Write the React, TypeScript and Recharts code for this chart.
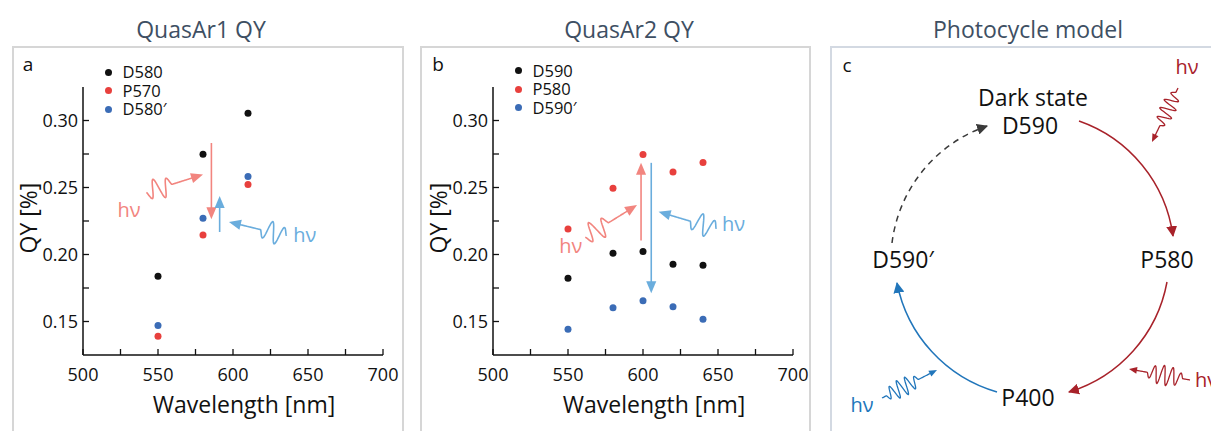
import React from 'react';
import { ScatterChart, Scatter, XAxis, YAxis, ReferenceLine, ReferenceDot, Legend } from 'recharts';

// QuasAr1 quantum yields (panel a)
const WL_A = [550, 580, 610];
const D580 = [0.1837, 0.2748, 0.3055];
const P570 = [0.1389, 0.2146, 0.2522];
const D580_PRIME = [0.147, 0.227, 0.2582];

// QuasAr2 quantum yields (panel b)
const WL_B = [550, 580, 600, 620, 640];
const D590 = [0.1823, 0.201, 0.2023, 0.1927, 0.192];
const P580 = [0.219, 0.2494, 0.2746, 0.2615, 0.2687];
const D590_PRIME = [0.1443, 0.1603, 0.1655, 0.1611, 0.1517];

const X_TICKS = [500, 525, 550, 575, 600, 625, 650, 675, 700];
const Y_TICKS = [0.15, 0.175, 0.2, 0.225, 0.25, 0.275, 0.3];

const BLACK = '#111111';
const RED = '#e8403d';
const BLUE = '#3b6cb6';
const SALMON = '#f2857f';
const SKY = '#6aaddd';
const DARK_RED = '#a8222a';
const CYCLE_BLUE = '#2176bb';
const FONT = '"Open Sans", sans-serif';

// annotation arrows, in data units
const ARROWS_A = [
  { x1: 585.6, y1: 0.2832, x2: 585.6, y2: 0.2263, color: SALMON, wave: false },
  { x1: 591.1, y1: 0.2168, x2: 591.1, y2: 0.2436, color: SKY, wave: false },
  { x1: 542.3, y1: 0.2463, x2: 580, y2: 0.2597, color: SALMON, wave: true },
  { x1: 635.6, y1: 0.2139, x2: 597.3, y2: 0.2243, color: SKY, wave: true },
];
const HV_A = [
  { x: 530.7, y: 0.233, color: SALMON },
  { x: 647.8, y: 0.2139, color: SKY },
];
const ARROWS_B = [
  { x1: 598.7, y1: 0.2104, x2: 598.7, y2: 0.2684, color: SALMON, wave: false },
  { x1: 605.5, y1: 0.2684, x2: 605.5, y2: 0.171, color: SKY, wave: false },
  { x1: 561.5, y1: 0.2129, x2: 596, y2: 0.2369, color: SALMON, wave: true },
  { x1: 648.8, y1: 0.2191, x2: 610.4, y2: 0.2319, color: SKY, wave: true },
];
const HV_B = [
  { x: 551.9, y: 0.2058, color: SALMON },
  { x: 660.3, y: 0.2225, color: SKY },
];

const toPoints = (xs: number[], ys: number[]) => xs.map((x, i) => ({ x, y: ys[i] }));

// wavy photon (or plain) arrow between two pixel points
function photon(x1: number, y1: number, x2: number, y2: number, o: any) {
  const dx = x2 - x1, dy = y2 - y1;
  const L = Math.hypot(dx, dy);
  const ux = dx / L, uy = dy / L, nx = -uy, ny = ux;
  const w0 = L * (o.start || 0), w1 = L * ((o.start || 0) + (o.len || 0));
  const end = L - o.head * 0.8;
  const pts: string[] = [];
  for (let s = 0; s <= end; s += 0.5) {
    let off = 0;
    if (o.len && s >= w0 && s <= w1) {
      const t = (s - w0) / (w1 - w0);
      off = o.amp * Math.sin(2 * Math.PI * o.periods * t) * Math.pow(Math.sin(Math.PI * t), 0.4);
    }
    pts.push(`${(x1 + ux * s + nx * off).toFixed(2)},${(y1 + uy * s + ny * off).toFixed(2)}`);
  }
  const bx = x2 - ux * o.head, by = y2 - uy * o.head;
  const hw = o.head * 0.42;
  const head = `${x2},${y2} ${bx + nx * hw},${by + ny * hw} ${bx - nx * hw},${by - ny * hw}`;
  return { d: 'M' + pts.join(' L'), head };
}

const WAVE_AB = { start: 0, len: 0.45, periods: 2, amp: 11, head: 12 };
const PLAIN_AB = { head: 12 };

function XTick(props: any) {
  const { x, y, payload } = props;
  const v = payload.value;
  const major = v % 50 === 0;
  return (
    <g>
      <line x1={x} y1={y} x2={x} y2={y - 6} stroke={BLACK} strokeWidth={1.3} />
      {major && (
        <text x={x} y={y + 26} textAnchor="middle" fontSize={18} fill={BLACK} fontFamily={FONT}>
          {v}
        </text>
      )}
    </g>
  );
}

function YTick(props: any) {
  const { x, y, payload } = props;
  const v = payload.value;
  const major = Math.abs(v * 20 - Math.round(v * 20)) < 1e-6;
  return (
    <g>
      <line x1={x} y1={y} x2={x + 6} y2={y} stroke={BLACK} strokeWidth={1.3} />
      {major && (
        <text x={x - 5} y={y + 6.5} textAnchor="end" fontSize={18} fill={BLACK} fontFamily={FONT}>
          {v.toFixed(2)}
        </text>
      )}
    </g>
  );
}

function QYPanel({ left, series, arrows, hv, legendTop }: any) {
  return (
    <div style={{ position: 'absolute', left, top: 0 }}>
      <ScatterChart width={410} height={431} margin={{ top: 87, right: 27, bottom: 75, left: 82 }}>
        <XAxis
          type="number"
          dataKey="x"
          domain={[500, 700]}
          ticks={X_TICKS}
          height={1}
          tickSize={0}
          tickMargin={0}
          tickLine={false}
          axisLine={{ stroke: BLACK, strokeWidth: 1.5 }}
          tick={(p: any) => <XTick {...p} />}
          interval={0}
          label={{
            content: (p: any) => {
              const vb = p.viewBox || { x: 83, y: 355, width: 300 };
              return (
                <text x={vb.x + vb.width / 2 + 11} y={vb.y + 58} textAnchor="middle" fontSize={23} fill={BLACK} fontFamily={FONT}>
                  Wavelength [nm]
                </text>
              );
            },
          }}
        />
        <YAxis
          type="number"
          dataKey="y"
          domain={[0.125, 0.325]}
          ticks={Y_TICKS}
          width={1}
          tickSize={0}
          tickMargin={0}
          tickLine={false}
          axisLine={{ stroke: BLACK, strokeWidth: 1.5 }}
          tick={(p: any) => <YTick {...p} />}
          interval={0}
          label={{
            content: (p: any) => {
              const vb = p.viewBox || { x: 82, y: 87, height: 268 };
              const cx = vb.x + (vb.width || 1) - 55, cy = vb.y + vb.height / 2 - 3;
              return (
                <text x={cx} y={cy} textAnchor="middle" dominantBaseline="central" fontSize={23} fill={BLACK} fontFamily={FONT} transform={`rotate(-90 ${cx} ${cy})`}>
                  QY [%]
                </text>
              );
            },
          }}
        />
        {arrows.map((a: any, i: number) => (
          <ReferenceLine
            key={`arr-${i}`}
            segment={[{ x: a.x1, y: a.y1 }, { x: a.x2, y: a.y2 }]}
            shape={(p: any) => {
              const g = photon(p.x1, p.y1, p.x2, p.y2, a.wave ? WAVE_AB : PLAIN_AB);
              return (
                <g>
                  <path d={g.d} fill="none" stroke={a.color} strokeWidth={1.6} strokeLinejoin="round" />
                  <polygon points={g.head} fill={a.color} />
                </g>
              );
            }}
          />
        ))}
        {hv.map((h: any, i: number) => (
          <ReferenceDot
            key={`hv-${i}`}
            x={h.x}
            y={h.y}
            r={1}
            shape={(p: any) => (
              <text x={p.cx} y={p.cy + 6.5} textAnchor="middle" fontSize={20} fill={h.color} fontFamily={FONT}>
                hν
              </text>
            )}
          />
        ))}
        {series.map((s: any) => (
          <Scatter
            key={s.name}
            name={s.name}
            data={s.data}
            fill={s.color}
            isAnimationActive={false}
            shape={(p: any) => <circle cx={p.cx} cy={p.cy} r={3.5} fill={s.color} />}
          />
        ))}
        <Legend
          layout="vertical"
          align="center"
          verticalAlign="middle"
          wrapperStyle={{ left: 104.5, top: legendTop, width: 'auto', height: 'auto' }}
          content={() => (
            <div style={{ fontFamily: FONT }}>
              {series.map((s: any) => (
                <div key={s.name} style={{ display: 'flex', alignItems: 'center', height: 18.5 }}>
                  <span style={{ width: 7, height: 7, borderRadius: '50%', background: s.color, display: 'inline-block' }} />
                  <span style={{ display: 'inline-block', marginLeft: 11, fontSize: 16.5, height: 18.5, lineHeight: '18.5px', color: BLACK }}>
                    {s.name}
                  </span>
                </div>
              ))}
            </div>
          )}
        />
      </ScatterChart>
    </div>
  );
}

const CYCLE_TEXT = [
  { text: 'Dark state', x: 213, y: 106 },
  { text: 'D590', x: 210, y: 134 },
  { text: 'P580', x: 347, y: 268 },
  { text: 'P400', x: 208, y: 406 },
  { text: 'D590′', x: 83, y: 268 },
];

function CyclePhoton({ x1, y1, x2, y2, o, color }: any) {
  const g = photon(x1, y1, x2, y2, o);
  return (
    <g>
      <path d={g.d} fill="none" stroke={color} strokeWidth={1.3} strokeLinejoin="round" />
      <polygon points={g.head} fill={color} />
    </g>
  );
}

function PhotocyclePanel() {
  return (
    <svg width={391} height={431} style={{ position: 'absolute', left: 820, top: 0 }}>
      <defs>
        <marker id="mRed" viewBox="0 0 10 10" refX="9" refY="5" markerWidth="11" markerHeight="11" markerUnits="userSpaceOnUse" orient="auto">
          <path d="M0,0 L10,5 L0,10 z" fill={DARK_RED} />
        </marker>
        <marker id="mBlue" viewBox="0 0 10 10" refX="9" refY="5" markerWidth="11" markerHeight="11" markerUnits="userSpaceOnUse" orient="auto">
          <path d="M0,0 L10,5 L0,10 z" fill={CYCLE_BLUE} />
        </marker>
        <marker id="mGray" viewBox="0 0 10 10" refX="9" refY="5" markerWidth="11" markerHeight="11" markerUnits="userSpaceOnUse" orient="auto">
          <path d="M0,0 L10,5 L0,10 z" fill="#3a3a3a" />
        </marker>
      </defs>
      <text x={27} y={72} textAnchor="middle" fontSize={19} fill={BLACK} fontFamily={FONT}>c</text>
      {CYCLE_TEXT.map((t) => (
        <text key={t.text} x={t.x} y={t.y} textAnchor="middle" fontSize={23} fill={BLACK} fontFamily={FONT}>
          {t.text}
        </text>
      ))}
      <path d="M259,121 A142,142 0 0 1 353,236" fill="none" stroke={DARK_RED} strokeWidth={1.5} markerEnd="url(#mRed)" />
      <path d="M347,282 A142,142 0 0 1 249,392" fill="none" stroke={DARK_RED} strokeWidth={1.5} markerEnd="url(#mRed)" />
      <path d="M177,392 A142,142 0 0 1 77,283" fill="none" stroke={CYCLE_BLUE} strokeWidth={1.5} markerEnd="url(#mBlue)" />
      <path d="M72,243 A142,142 0 0 1 167,126" fill="none" stroke="#3a3a3a" strokeWidth={1.5} strokeDasharray="6 5" markerEnd="url(#mGray)" />
      <CyclePhoton x1={358} y1={88} x2={332} y2={142} color={DARK_RED} o={{ start: 0.08, len: 0.62, periods: 4, amp: 8, head: 8 }} />
      <CyclePhoton x1={370} y1={380} x2={309} y2={369} color={DARK_RED} o={{ start: 0.12, len: 0.58, periods: 4, amp: 10, head: 8 }} />
      <CyclePhoton x1={62} y1={398} x2={117} y2={370} color={CYCLE_BLUE} o={{ start: 0.08, len: 0.58, periods: 4, amp: 9, head: 8 }} />
      <text x={367} y={74} textAnchor="middle" fontSize={20} fill={DARK_RED} fontFamily={FONT}>hν</text>
      <text x={375} y={387} textAnchor="start" fontSize={20} fill={DARK_RED} fontFamily={FONT}>hν</text>
      <text x={42} y={412} textAnchor="middle" fontSize={20} fill={CYCLE_BLUE} fontFamily={FONT}>hν</text>
    </svg>
  );
}

export default function App() {
  const seriesA = [
    { name: 'D580', color: BLACK, data: toPoints(WL_A, D580) },
    { name: 'P570', color: RED, data: toPoints(WL_A, P570) },
    { name: 'D580′', color: BLUE, data: toPoints(WL_A, D580_PRIME) },
  ];
  const seriesB = [
    { name: 'D590', color: BLACK, data: toPoints(WL_B, D590) },
    { name: 'P580', color: RED, data: toPoints(WL_B, P580) },
    { name: 'D590′', color: BLUE, data: toPoints(WL_B, D590_PRIME) },
  ];
  return (
    <div style={{ position: 'absolute', left: 0, top: 0, width: 1211, height: 431, overflow: 'hidden', background: '#fff', fontFamily: FONT }}>
      <svg width={1211} height={431} style={{ position: 'absolute', left: 0, top: 0 }}>
        <rect x={13} y={47} width={390} height={420} fill="none" stroke="#d6d6d6" strokeWidth={2} />
        <rect x={421} y={47} width={389} height={420} fill="none" stroke="#d6d6d6" strokeWidth={2} />
        <rect x={831} y={47} width={420} height={420} fill="none" stroke="#d3d9e2" strokeWidth={2} />
        <text x={201} y={38} textAnchor="middle" fontSize={23} fill="#3e4f63" fontFamily={FONT}>QuasAr1 QY</text>
        <text x={629} y={38} textAnchor="middle" fontSize={23} fill="#3e4f63" fontFamily={FONT}>QuasAr2 QY</text>
        <text x={1028} y={38} textAnchor="middle" fontSize={23} fill="#3e4f63" fontFamily={FONT}>Photocycle model</text>
        <text x={28} y={71} textAnchor="middle" fontSize={19} fill={BLACK} fontFamily={FONT}>a</text>
        <text x={438} y={71} textAnchor="middle" fontSize={19} fill={BLACK} fontFamily={FONT}>b</text>
      </svg>
      <QYPanel left={0} series={seriesA} arrows={ARROWS_A} hv={HV_A} legendTop={63} />
      <QYPanel left={410} series={seriesB} arrows={ARROWS_B} hv={HV_B} legendTop={61.5} />
      <PhotocyclePanel />
    </div>
  );
}
